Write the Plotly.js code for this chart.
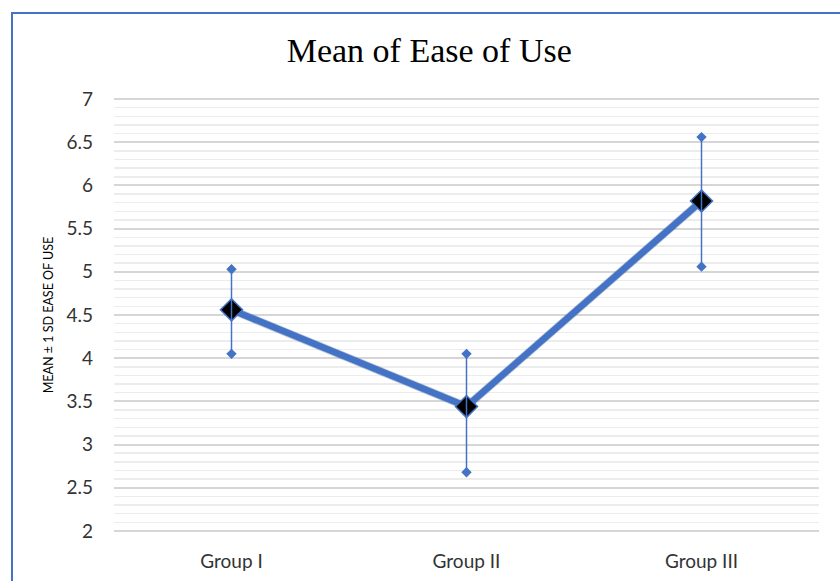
<!DOCTYPE html>
<html>
<head>
<meta charset="utf-8">
<script src="https://cdn.plot.ly/plotly-3.0.1.min.js"></script>
<style>
  html, body { margin: 0; padding: 0; background: #fff; }
  #chart { width: 840px; height: 581px; }
  #frame { position: absolute; left: 11px; top: 12px; width: 840px; height: 581px;
           border-left: 2.5px solid #4472C4; border-top: 2.5px solid #4472C4; pointer-events: none; }
</style>
</head>
<body>
<div id="chart"></div>
<div id="frame"></div>
<script>
const groups = ["Group I", "Group II", "Group III"];
const means = [4.56, 3.44, 5.82];
const upper = [5.03, 4.05, 6.56];
const lower = [4.05, 2.68, 5.06];

const plus = means.map((m, i) => upper[i] - m);
const minus = means.map((m, i) => m - lower[i]);

const blue = "#4472C4";

const traces = [
  {
    x: groups, y: means, type: "scatter", mode: "lines",
    line: { color: "#2f5597", width: 8 }, opacity: 0.35,
    hoverinfo: "skip", showlegend: false
  },
  {
    x: groups, y: means, type: "scatter", mode: "lines+markers",
    line: { color: blue, width: 6.5 },
    marker: { symbol: "diamond", size: 17, color: "#000", line: { color: blue, width: 1.5 } },
    hoverinfo: "x+y", showlegend: false
  },
  {
    x: groups, y: means, type: "scatter", mode: "markers",
    marker: { size: 1, color: "rgba(0,0,0,0)" },
    error_y: { type: "data", symmetric: false, array: plus, arrayminus: minus,
               color: blue, thickness: 1.5, width: 0 },
    hoverinfo: "skip", showlegend: false
  },
  {
    x: groups.concat(groups), y: upper.concat(lower), type: "scatter", mode: "markers",
    marker: { symbol: "diamond", size: 8, color: blue },
    hoverinfo: "y", showlegend: false
  }
];

const layout = {
  width: 840, height: 581,
  margin: { l: 114, r: 21, t: 97, b: 48 },
  paper_bgcolor: "#fff", plot_bgcolor: "#fff",
  title: { text: "Mean of Ease of Use", font: { family: "Liberation Serif, Times New Roman, serif", size: 34, color: "#000" },
           x: 0.511, xanchor: "center", y: 0.913, yanchor: "middle" },
  xaxis: {
    type: "category", range: [-0.5, 2.5], showgrid: false, zeroline: false, showline: false,
    ticks: "", tickfont: { family: "Lato, Open Sans, sans-serif", size: 19, color: "#333" },
    ticklabelstandoff: 15
  },
  yaxis: {
    range: [1.976, 7.024], dtick: 0.5, tick0: 2, zeroline: false, showline: false, ticks: "",
    gridcolor: "#d6d6d6", gridwidth: 2,
    minor: { dtick: 0.1, showgrid: true, gridcolor: "#ececec", gridwidth: 1.5 },
    tickfont: { family: "Lato, Open Sans, sans-serif", size: 19, color: "#333" },
    ticklabelstandoff: 20,
    title: { text: "MEAN ± 1 SD EASE OF USE", font: { family: "Lato, Open Sans, sans-serif", size: 12.5, color: "#000" }, standoff: 10 }
  }
};

Plotly.newPlot("chart", traces, layout, { displayModeBar: false, staticPlot: true });
</script>
</body>
</html>
